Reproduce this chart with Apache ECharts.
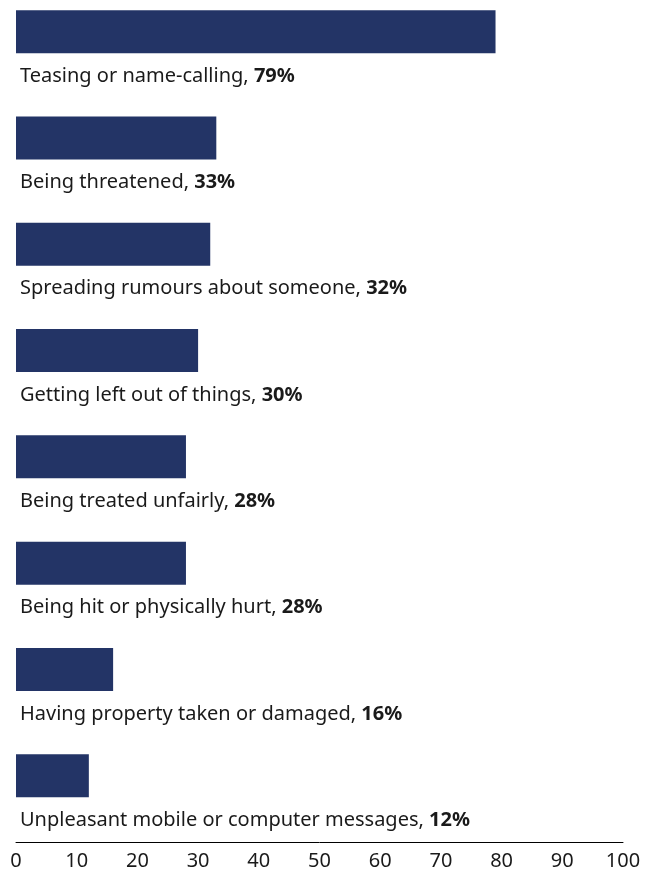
<!DOCTYPE html>
<html>
<head>
<meta charset="utf-8">
<script src="https://cdn.jsdelivr.net/npm/echarts@6/dist/echarts.min.js"></script>
<style>
  html, body { margin: 0; padding: 0; background: #fff; }
  #chart { width: 654px; height: 871px; }
</style>
</head>
<body>
<div id="chart"></div>
<script>
// 数据
const categories = [
  'Teasing or name-calling',
  'Being threatened',
  'Spreading rumours about someone',
  'Getting left out of things',
  'Being treated unfairly',
  'Being hit or physically hurt',
  'Having property taken or damaged',
  'Unpleasant mobile or computer messages'
];
const values = [79, 33, 32, 30, 28, 28, 16, 12];
const xTicks = [0, 10, 20, 30, 40, 50, 60, 70, 80, 90, 100];

const chart = echarts.init(document.getElementById('chart'));
chart.setOption({
  animation: false,
  grid: {
    left: 16,
    right: 31,
    top: 0,
    bottom: 20.6
  },
  xAxis: {
    type: 'value',
    min: xTicks[0],
    max: xTicks[xTicks.length - 1],
    interval: 10,
    offset: -8.4,
    splitLine: { show: false },
    axisTick: { show: false },
    axisLine: { show: true, lineStyle: { color: '#000', width: 1 } },
    axisLabel: {
      color: '#1a1a1a',
      fontSize: 20,
      fontFamily: 'Noto Sans',
      margin: 9
    }
  },
  yAxis: {
    type: 'category',
    inverse: true,
    data: categories,
    show: false
  },
  series: [{
    type: 'bar',
    data: values,
    barWidth: 43,
    barGap: '0%',
    itemStyle: { color: '#233466' },
    label: {
      show: true,
      position: [4, 66],
      align: 'left',
      verticalAlign: 'middle',
      formatter: p => '{n|' + p.name + ', }{b|' + p.value + '%}',
      rich: {
        n: { fontSize: 20, color: '#1a1a1a', fontFamily: 'Noto Sans' },
        b: { fontSize: 20, color: '#1a1a1a', fontFamily: 'Noto Sans', fontWeight: 'bold' }
      }
    }
  }, {
    // 占位系列：把条形推到每行上半部分
    type: 'bar',
    data: values.map(() => 0),
    barWidth: 43,
    silent: true,
    itemStyle: { color: 'transparent' }
  }]
});
</script>
</body>
</html>
